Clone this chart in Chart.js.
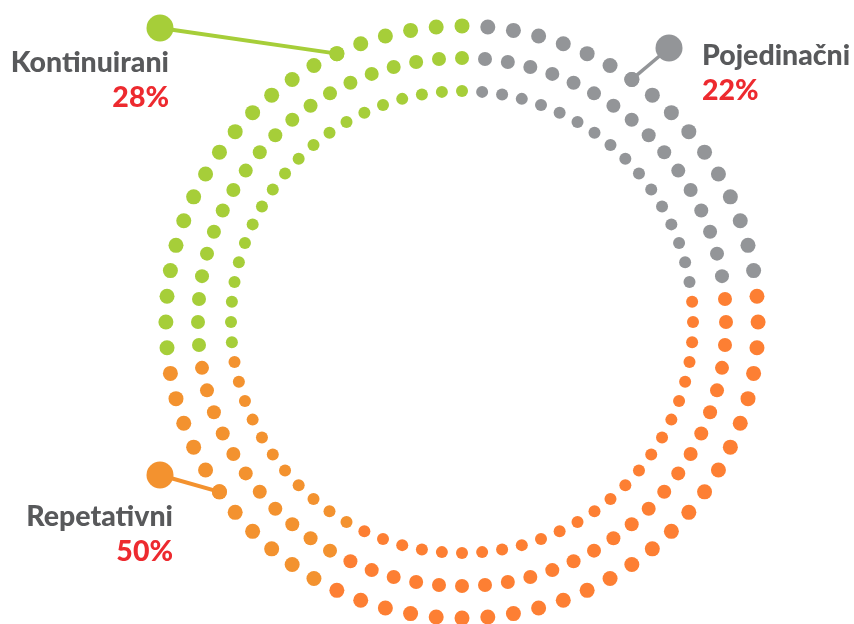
<!DOCTYPE html>
<html>
<head>
<meta charset="utf-8">
<script src="https://cdn.jsdelivr.net/npm/chart.js@4.4.0/dist/chart.umd.min.js"></script>
<style>
  html, body { margin: 0; padding: 0; background: #ffffff; }
  #wrap { position: relative; width: 854px; height: 624px; }
</style>
</head>
<body>
<div id="wrap"><canvas id="c" width="854" height="624"></canvas></div>
<script>
// ---- data ----
const categories = ['Pojedinačni', 'Repetativni', 'Kontinuirani'];
const shares = [22, 50, 28];
const percentLabels = ['22%', '50%', '28%'];
const dotCount = 72;
const ringValues = [98.7, 88, 77];

// ---- styles ----
const seriesColors = ['#939598', '#fd7f33', '#a6ce39'];
const orangeAltColor = '#f3922f';
const orangeAltAfter = 25;          // dots of the orange series drawn in the lighter tone after this many
const ringDotRadius = [7.5, 7, 6];

// segment boundaries (in dots), grey starting one step after top
const segCounts = [Math.round(shares[0] / 100 * dotCount), Math.round(shares[1] / 100 * dotCount)];
function dotColor(i) {
  const k = (i - 1 + dotCount) % dotCount;
  if (k < segCounts[0]) return seriesColors[0];
  if (k < segCounts[0] + segCounts[1]) {
    return (k - segCounts[0] < orangeAltAfter) ? seriesColors[1] : orangeAltColor;
  }
  return seriesColors[2];
}
const dotColors = Array.from({ length: dotCount }, (_, i) => dotColor(i));
const labels = Array.from({ length: dotCount }, (_, i) => String(i));

const datasets = ringValues.map((v, r) => ({
  label: 'ring' + r,
  data: Array(dotCount).fill(v),
  pointRadius: ringDotRadius[r],
  pointHoverRadius: ringDotRadius[r],
  pointBackgroundColor: dotColors,
  pointBorderWidth: 0,
  pointBorderColor: 'rgba(0,0,0,0)',
  borderWidth: 0,
  borderColor: 'rgba(0,0,0,0)',
  backgroundColor: 'rgba(0,0,0,0)',
  fill: false,
  showLine: false
}));

const callouts = [
  { s: 2, bx: 160, by: 28, br: 13.5, idx: 67, lw: 4, align: 'right', tx: 169, ny: 72, py: 107, color: seriesColors[2] },
  { s: 0, bx: 669, by: 48, br: 13.5, idx: 7, lw: 3.5, align: 'left', tx: 702, ny: 65, py: 100, color: seriesColors[0] },
  { s: 1, bx: 160, by: 475, br: 13.5, idx: 47, lw: 4, align: 'right', tx: 173, ny: 526, py: 561, color: orangeAltColor }
];

const calloutPlugin = {
  id: 'callouts',
  afterDatasetsDraw(chart) {
    const ctx = chart.ctx;
    const scale = chart.scales.r;
    ctx.save();
    callouts.forEach(c => {
      const p = scale.getPointPositionForValue(c.idx, ringValues[0]);
      ctx.strokeStyle = c.color;
      ctx.lineWidth = c.lw;
      ctx.beginPath();
      ctx.moveTo(c.bx, c.by);
      ctx.lineTo(p.x, p.y);
      ctx.stroke();
      ctx.fillStyle = c.color;
      ctx.beginPath();
      ctx.arc(c.bx, c.by, c.br, 0, Math.PI * 2);
      ctx.fill();
      ctx.beginPath();
      ctx.arc(p.x, p.y, ringDotRadius[0], 0, Math.PI * 2);
      ctx.fill();
      ctx.textAlign = c.align;
      ctx.textBaseline = 'alphabetic';
      ctx.font = '900 28.5px Lato';
      ctx.fillStyle = '#58595b';
      ctx.fillText(categories[c.s], c.tx, c.ny);
      ctx.fillStyle = '#ed2a2f';
      ctx.fillText(percentLabels[c.s], c.tx, c.py);
    });
    ctx.restore();
  }
};

new Chart(document.getElementById('c'), {
  type: 'radar',
  data: { labels, datasets },
  options: {
    responsive: false,
    animation: false,
    events: [],
    layout: { padding: { left: 162, right: 92, top: 22, bottom: 2 } },
    plugins: { legend: { display: false }, tooltip: { enabled: false } },
    scales: {
      r: {
        min: 0,
        max: 100,
        grid: { display: false },
        angleLines: { display: false },
        ticks: { display: false },
        pointLabels: { display: false }
      }
    }
  },
  plugins: [calloutPlugin]
});
</script>
</body>
</html>
